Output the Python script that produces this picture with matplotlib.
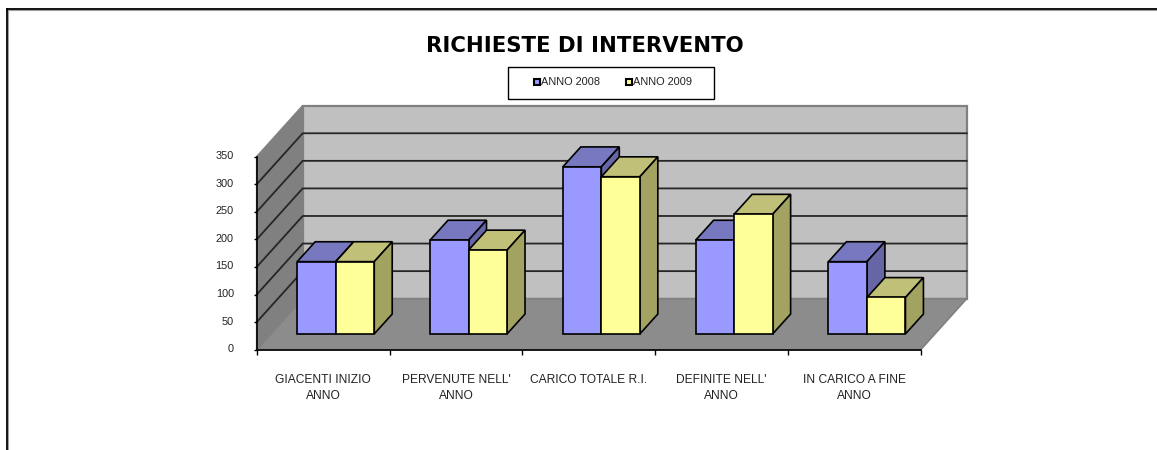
# Richieste di intervento, Excel style 3D columns faked on a plain 2D axes
import matplotlib
matplotlib.use("Agg")
import matplotlib.pyplot as plt
from matplotlib.patches import Polygon, Rectangle
from matplotlib.lines import Line2D
from matplotlib.transforms import ScaledTranslation

categories = ["GIACENTI INIZIO\nANNO", "PERVENUTE NELL'\nANNO", "CARICO TOTALE R.I.",
              "DEFINITE NELL'\nANNO", "IN CARICO A FINE\nANNO"]
anno_2008 = [131, 170, 303, 170, 131]
anno_2009 = [131, 152, 285, 217, 66]
series_names = ["ANNO 2008", "ANNO 2009"]
y_ticks = [0, 50, 100, 150, 200, 250, 300, 350]

W, H = 1157, 450
plt.rcParams['font.family'] = ['Liberation Sans', 'DejaVu Sans']

fig = plt.figure(figsize=(W / 100, H / 100), dpi=100)
ax = fig.add_axes([256.7 / W, 1 - 349.7 / H, 664 / W, 193 / H])
ax.set_xlim(0, 5)
ax.set_ylim(0, 350)
ax.patch.set_visible(False)

# depth of the box, in data units
dx = 46 / 132.8
dy = 51 / 0.5514
bar_w = 0.29
bar_x0 = 0.198
d_front, d_back = 0.31, 0.70


def poly(pts, fc, ec='black', lw=1.2, z=2):
    ax.add_patch(Polygon(pts, closed=True, fc=fc, ec=ec, lw=lw, zorder=z, clip_on=False, joinstyle='miter'))


def p(x, y, d):
    return (x + d * dx, y + d * dy)


# walls and floor
poly([p(0, 0, 0), p(0, 0, 1), p(0, 350, 1), p(0, 350, 0)], '#808080', ec='#808080', z=1)
poly([p(0, 0, 1), p(5, 0, 1), p(5, 350, 1), p(0, 350, 1)], '#c0c0c0', ec='#808080', lw=1.6, z=1)
poly([p(0, 0, 0), p(5, 0, 0), p(5, 0, 1), p(0, 0, 1)], '#8c8c8c', ec='#808080', z=1)

for v in y_ticks[1:-1]:
    xs, ys = zip(p(0, v, 0), p(0, v, 1), p(5, v, 1))
    ax.add_line(Line2D(xs, ys, color='#262626', lw=1.3, zorder=1.5, clip_on=False))


def column(x, v, front, top, side):
    x2 = x + bar_w
    poly([p(x, v, d_front), p(x, v, d_back), p(x2, v, d_back), p(x2, v, d_front)], top)
    poly([p(x2, 0, d_front), p(x2, 0, d_back), p(x2, v, d_back), p(x2, v, d_front)], side)
    poly([p(x, 0, d_front), p(x2, 0, d_front), p(x2, v, d_front), p(x, v, d_front)], front)


for i in range(len(categories)):
    column(i + bar_x0, anno_2008[i], '#9999ff', '#7878c0', '#6666a6')
    column(i + bar_x0 + bar_w, anno_2009[i], '#ffff99', '#c0c078', '#a3a361')

# axes lines and ticks
for s in ['top', 'right']:
    ax.spines[s].set_visible(False)
for s in ['left', 'bottom']:
    ax.spines[s].set_linewidth(1.2)
    ax.spines[s].set_zorder(3)
ax.set_yticks(y_ticks)
ax.set_xticks(range(6))
ax.set_xticklabels([])
ax.set_xticks([i + 0.5 for i in range(5)], categories, minor=True)
ax.tick_params(axis='x', which='minor', length=0, labelsize=8.65, pad=17.3, labelcolor='#222222')
ax.tick_params(axis='x', which='major', length=3.5, width=1)
ax.tick_params(axis='y', length=2.5, width=1, labelsize=7.8, pad=14, labelcolor='#222222')
for lab in ax.get_xticklabels(minor=True):
    lab.set_linespacing(1.45)
# y labels sit a touch above their ticks in the original
up = ScaledTranslation(0, 1.5 / 100, fig.dpi_scale_trans)
for lab in ax.get_yticklabels():
    lab.set_transform(lab.get_transform() + up)

fig.text(585 / W, 1 - 46 / H, "RICHIESTE DI INTERVENTO", ha='center', va='center',
         fontsize=15.3, fontweight='bold', family='DejaVu Sans')

# legend box
fig.add_artist(Rectangle((507.5 / W, 1 - 98.5 / H), 206 / W, 32 / H, transform=fig.transFigure,
                         fc='white', ec='black', lw=1))
for x, name, c in zip([534, 626], series_names, ['#9999ff', '#ffff99']):
    fig.add_artist(Rectangle((x / W, 1 - 85 / H), 6 / W, 6 / H, transform=fig.transFigure,
                             fc=c, ec='black', lw=1.5))
    fig.text((x + 7) / W, 1 - 82 / H, name, ha='left', va='center', fontsize=7.9, color='#222222')

# outer frame, only top and left show
fig.add_artist(Line2D([6.5 / W, 1], [1 - 9.6 / H, 1 - 9.6 / H], color='#a0a0a0', lw=0.8))
fig.add_artist(Line2D([7.6 / W, 7.6 / W], [1 - 9 / H, 0], color='#a0a0a0', lw=0.8))
fig.add_artist(Line2D([6.5 / W, 1], [1 - 8.5 / H, 1 - 8.5 / H], color='black', lw=1.3))
fig.add_artist(Line2D([6.5 / W, 6.5 / W], [1 - 8.5 / H, 0], color='black', lw=1.3))

fig.savefig("out.png", dpi=100)
